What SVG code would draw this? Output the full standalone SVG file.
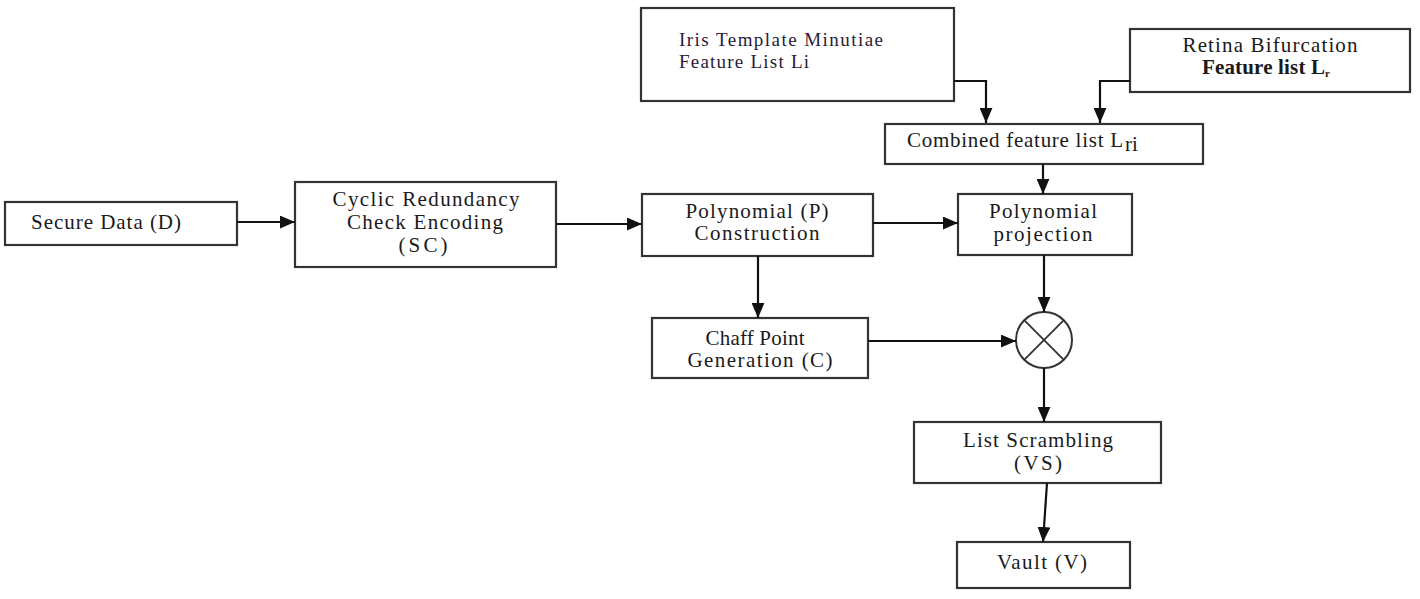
<svg xmlns="http://www.w3.org/2000/svg" width="1420" height="599" viewBox="0 0 1420 599">
<defs>
<marker id="ah" viewBox="0 0 14 12" refX="14" refY="6" markerWidth="15" markerHeight="13" markerUnits="userSpaceOnUse" orient="auto">
<path d="M0,0 L14,6 L0,12 Z" fill="#111"/>
</marker>
<style>
.box{fill:#fff;stroke:#333;stroke-width:2.2}
.t{font-family:"Liberation Serif","Times New Roman",serif;font-size:21px;fill:#1a1a1a;text-anchor:middle}
.tl{font-family:"Liberation Serif","Times New Roman",serif;font-size:19px;fill:#2a1a3a}
.c{fill:none;stroke:#111;stroke-width:2.2;marker-end:url(#ah)}
</style>
</defs>
<rect width="1420" height="599" fill="#fff"/>
<g id="iris">
<rect class="box" x="641" y="8" width="313" height="93"/>
<text class="tl" x="679" y="46" textLength="204" lengthAdjust="spacing">Iris Template Minutiae</text>
<text class="tl" x="679" y="68" textLength="130" lengthAdjust="spacing">Feature List Li</text>
</g>
<g id="retina">
<rect class="box" x="1130" y="29" width="280" height="63"/>
<text class="t" x="1270" y="52" textLength="175" lengthAdjust="spacing">Retina Bifurcation</text>
<text class="t" x="1266" y="74" font-weight="bold" font-size="19" textLength="128" lengthAdjust="spacing">Feature list L<tspan font-size="11" dy="3">r</tspan></text>
</g>
<g id="combined">
<rect class="box" x="885" y="124" width="318" height="40"/>
<text class="t" x="907" y="147" style="text-anchor:start" textLength="216" lengthAdjust="spacing">Combined feature list L</text>
<text class="t" x="1125" y="151" font-size="12" style="text-anchor:start">ri</text>
</g>
<g id="secure">
<rect class="box" x="5" y="202" width="232" height="43"/>
<text class="t" x="106" y="229" textLength="150" lengthAdjust="spacing">Secure Data (D)</text>
</g>
<g id="crc">
<rect class="box" x="295" y="182" width="261" height="85"/>
<text class="t" x="426" y="206" textLength="187" lengthAdjust="spacing">Cyclic Redundancy</text>
<text class="t" x="425" y="229" textLength="156" lengthAdjust="spacing">Check Encoding</text>
<text class="t" x="423" y="252" textLength="49" lengthAdjust="spacing">(SC)</text>
</g>
<g id="polyc">
<rect class="box" x="642" y="194" width="231" height="62"/>
<text class="t" x="757" y="218" textLength="143" lengthAdjust="spacing">Polynomial (P)</text>
<text class="t" x="757" y="240" textLength="125" lengthAdjust="spacing">Construction</text>
</g>
<g id="polyp">
<rect class="box" x="958" y="194" width="174" height="61"/>
<text class="t" x="1043" y="218" textLength="108" lengthAdjust="spacing">Polynomial</text>
<text class="t" x="1043" y="241" textLength="99" lengthAdjust="spacing">projection</text>
</g>
<g id="chaff">
<rect class="box" x="652" y="318" width="216" height="60"/>
<text class="t" x="755" y="345" textLength="99" lengthAdjust="spacing">Chaff Point</text>
<text class="t" x="760" y="367" textLength="145" lengthAdjust="spacing">Generation (C)</text>
</g>
<g id="mult">
<circle cx="1044" cy="340" r="28" fill="#fff" stroke="#333" stroke-width="2"/>
<path d="M1024.2,320.2 L1063.8,359.8 M1063.8,320.2 L1024.2,359.8" stroke="#333" stroke-width="1.8"/>
</g>
<g id="scramble">
<rect class="box" x="914" y="422" width="247" height="61"/>
<text class="t" x="1038" y="447" textLength="150" lengthAdjust="spacing">List Scrambling</text>
<text class="t" x="1038" y="470" textLength="48" lengthAdjust="spacing">(VS)</text>
</g>
<g id="vault">
<rect class="box" x="957" y="542" width="173" height="46"/>
<text class="t" x="1042" y="569" textLength="90" lengthAdjust="spacing">Vault (V)</text>
</g>
<g id="connectors">
<path class="c" d="M954,81 H986 V123"/>
<path class="c" d="M1130,81 H1100 V123"/>
<path class="c" d="M1043,164 V194"/>
<path class="c" d="M237,222 H295"/>
<path class="c" d="M556,224 H642"/>
<path class="c" d="M873,223 H958"/>
<path class="c" d="M758,256 V318"/>
<path class="c" d="M1044,255 V312"/>
<path class="c" d="M868,341 H1016"/>
<path class="c" d="M1044,368 V422"/>
<path class="c" d="M1047,483 L1043,542"/>
</g>
</svg>
